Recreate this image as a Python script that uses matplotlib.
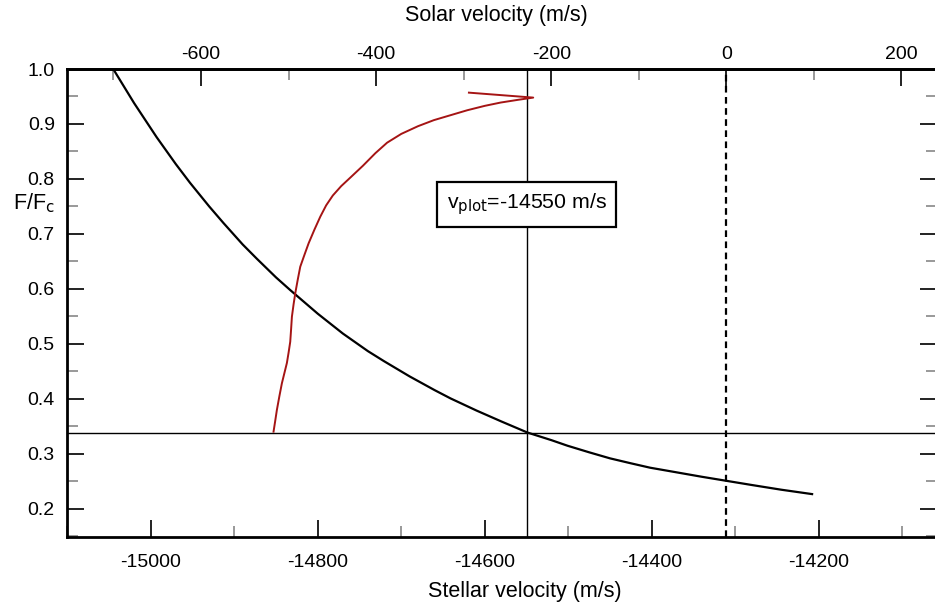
import matplotlib
matplotlib.use("Agg")
import matplotlib.pyplot as plt
from matplotlib.ticker import MultipleLocator, FixedLocator

plt.rcParams['font.family'] = ['Liberation Sans', 'DejaVu Sans']

# ---- data ----
model_vel = [-15045, -15020, -14993, -14970, -14953, -14930, -14913, -14890,
             -14873, -14850, -14833, -14800, -14770, -14740, -14721, -14690,
             -14660, -14641, -14610, -14580, -14549, -14520, -14501, -14475,
             -14450, -14425, -14402, -14370, -14340, -14310, -14280, -14245,
             -14208]
model_flux = [1.000, 0.938, 0.876, 0.827, 0.793, 0.750, 0.720, 0.681,
              0.655, 0.621, 0.598, 0.555, 0.519, 0.487, 0.469, 0.441,
              0.416, 0.401, 0.379, 0.359, 0.339, 0.325, 0.315, 0.303,
              0.292, 0.283, 0.275, 0.2665, 0.2585, 0.251, 0.2435, 0.235,
              0.227]

bis_vel = [-14853, -14851, -14849, -14846, -14843, -14840, -14837, -14835,
           -14833, -14832, -14831, -14829, -14827, -14824, -14821, -14816,
           -14811, -14804, -14797, -14790, -14782, -14772, -14760, -14746,
           -14731, -14717, -14700, -14680, -14661, -14641, -14621, -14600,
           -14581, -14560, -14542, -14619]
bis_flux = [0.3405, 0.360, 0.380, 0.405, 0.4285, 0.447, 0.4655, 0.484,
            0.504, 0.526, 0.5496, 0.572, 0.592, 0.617, 0.6405, 0.662,
            0.683, 0.708, 0.7315, 0.752, 0.770, 0.787, 0.804, 0.824,
            0.847, 0.866, 0.882, 0.896, 0.907, 0.916, 0.925, 0.933,
            0.939, 0.944, 0.948, 0.957]

v_plot = -14550
flux_level = 0.339
solar_zero = -14310.7     # stellar velocity where solar velocity = 0
solar_scale = 0.9537      # solar units per stellar unit

solar_major = [-600, -400, -200, 0, 200]
solar_minor = [-700, -500, -300, -100, 100]

xlim = (-15100, -14059)
ylim = (0.149, 1.0)

# ---- figure ----
W, H = 935, 607
fig = plt.figure(figsize=(W / 100, H / 100), dpi=100)
L, R, T, B = 67.3, 936.5, 69, 537
ax = fig.add_axes([L / W, 1 - B / H, (R - L) / W, (B - T) / H])

ax.plot(model_vel, model_flux, color='black', lw=1.6, zorder=3,
        solid_joinstyle='round')
ax.plot(bis_vel, bis_flux, color='#a51414', lw=1.4, zorder=4,
        solid_joinstyle='round')
ax.axvline(v_plot, color='black', lw=1.0, zorder=2)
ax.axhline(flux_level, color='black', lw=1.0, zorder=2)
ax.axvline(solar_zero, color='black', lw=1.6, ls=(0, (3, 2)), zorder=2)

ax.set_xlim(*xlim)
ax.set_ylim(*ylim)

ax.xaxis.set_major_locator(MultipleLocator(200))
ax.xaxis.set_minor_locator(MultipleLocator(100))
ax.yaxis.set_major_locator(MultipleLocator(0.1))
ax.yaxis.set_minor_locator(MultipleLocator(0.05))
ax.yaxis.set_major_formatter(plt.FuncFormatter(lambda v, p: f"{v:.1f}"))
ax.xaxis.set_major_formatter(plt.FuncFormatter(lambda v, p: f"{v:.0f}"))

ax.tick_params(axis='both', which='major', direction='in', length=12,
               width=1.4, labelsize=14, color='#222222')
ax.tick_params(axis='both', which='minor', direction='in', length=8,
               width=1.2, color='#888888')
ax.tick_params(axis='x', which='both', top=False, bottom=True, pad=12)
ax.tick_params(axis='y', which='both', left=True, right=True, pad=9)

for s in ax.spines.values():
    s.set_linewidth(2.0)

sec = ax.secondary_xaxis('top',
                         functions=(lambda v: (v - solar_zero) * solar_scale,
                                    lambda s: s / solar_scale + solar_zero))
sec.xaxis.set_major_locator(FixedLocator(solar_major))
sec.xaxis.set_minor_locator(FixedLocator(solar_minor))
sec.xaxis.set_major_formatter(plt.FuncFormatter(lambda v, p: f"{v:.0f}"))
sec.tick_params(which='major', direction='in', length=12, width=1.4,
                labelsize=14, pad=4, color='#222222')
sec.tick_params(which='minor', direction='in', length=8, width=1.2,
                color='#888888')
sec.spines['top'].set_linewidth(2.0)

ax.text(v_plot, 0.754, r"v$_{\rm plot}$=-14550 m/s", ha='center', va='center',
        fontsize=15.3, zorder=5,
        bbox=dict(boxstyle='square,pad=0.45', fc='white', ec='black', lw=1.6))

fig.text(496 / W, 1 - 16 / H, "Solar velocity (m/s)", ha='center', va='center',
         fontsize=15.5)
fig.text(524.5 / W, 1 - 591 / H, "Stellar velocity (m/s)", ha='center',
         va='center', fontsize=15.5)
fig.text(34 / W, 1 - 203 / H, r"F/F$_{\rm c}$", ha='center', va='center',
         fontsize=15.5)

fig.savefig("out.png", dpi=100)
